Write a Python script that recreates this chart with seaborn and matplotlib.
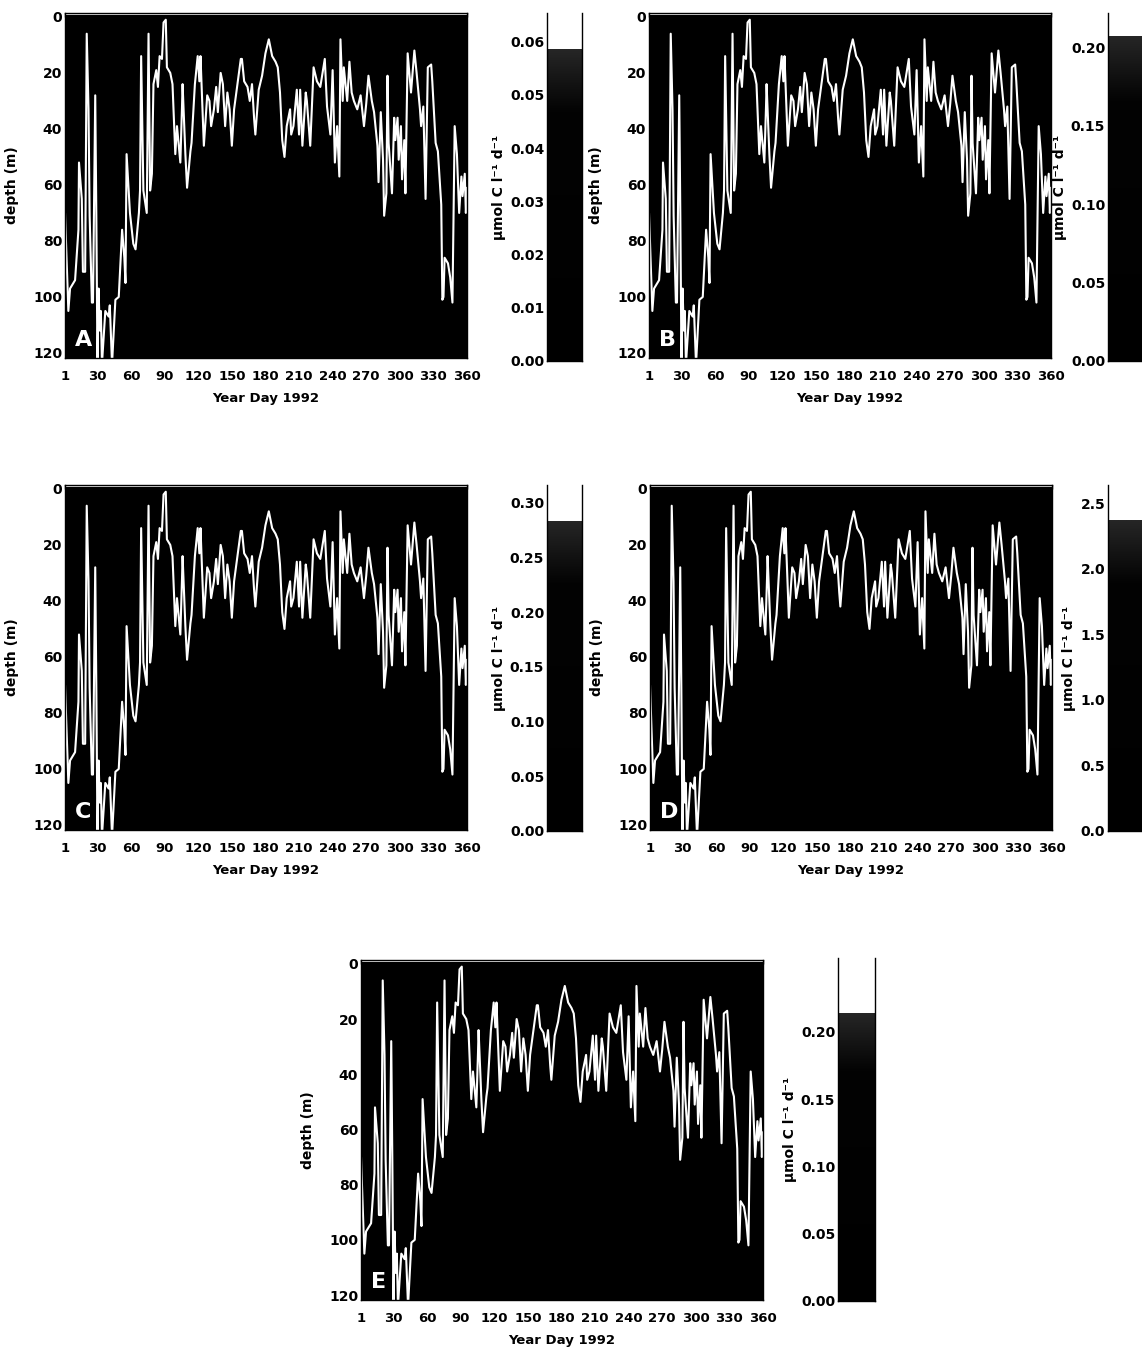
import numpy as np
import pandas as pd
import matplotlib
matplotlib.use("Agg")
import matplotlib.pyplot as plt
from matplotlib.colors import LinearSegmentedColormap
import seaborn as sns

# Mixed-layer depth (m) through 1992, by year day
mld_day = [1, 4, 5.5, 10, 13, 13.5, 16, 17, 19, 20.4, 22, 23, 25, 26, 28, 29, 30, 31, 32,
           33, 34, 37, 40, 41, 43, 46, 49, 52, 54, 55, 56, 59, 62, 64, 67, 68, 69, 71,
           74, 75.6, 77, 78.6, 80, 82.5, 84, 85.5, 87.6, 89, 91, 92, 95, 97, 99.5, 101,
           104, 105.5, 106, 108.5, 110, 113, 114, 117, 119.5, 121, 122, 125, 128, 130,
           131.5, 134, 136, 137.5, 140, 142, 144, 146, 148, 150, 152, 155, 158, 159, 161,
           164, 166, 168, 170, 171, 174, 177, 180, 183, 186, 189, 191, 193, 195, 197,
           199, 202, 203, 205, 208, 210, 211, 213, 216, 217, 220, 223, 226, 229, 233,
           235, 238, 240, 242, 244, 246, 247, 249, 250, 253, 255, 257, 259, 262, 265,
           268, 270, 272, 275, 277, 280, 281, 283, 285, 286, 288, 289, 290, 293, 295,
           296, 298, 299, 301, 302, 304, 305, 307, 310, 313, 315, 318, 319, 321, 323,
           325, 328, 329, 332, 334, 337, 338, 339, 340, 343, 345, 347, 349, 351, 353,
           355, 356, 358, 359, 360]
mld_depth = [70, 105, 97, 94, 76, 52, 65, 91, 91, 6, 33, 71, 102, 102, 28, 72, 124, 97, 112,
             105, 124, 105, 107, 103, 124, 101, 100, 76, 86, 95, 49, 70, 81, 83, 70, 62, 14, 62,
             70, 6, 62, 56, 24, 19, 25, 14, 15, 2, 1, 18, 20, 24, 49, 39,
             52, 32, 24, 49, 61, 48, 45, 24, 14, 23, 14, 46, 28, 30,
             39, 33, 25, 34, 20, 24, 39, 27, 33, 46, 33, 24, 15, 15, 23,
             25, 30, 24, 37, 42, 26, 21, 13, 8, 14, 16, 18, 27, 44, 50,
             39, 33, 42, 39, 26, 42, 26, 46, 27, 30, 46, 18, 23, 25, 15,
             32, 42, 19, 52, 39, 57, 8, 30, 18, 30, 16, 27, 30, 33, 28,
             39, 31, 21, 30, 34, 46, 59, 34, 51, 71, 63, 21, 45, 63, 36,
             44, 36, 51, 39, 58, 44, 63, 13, 27, 12, 20, 33, 39, 32, 65,
             18, 17, 23, 45, 48, 67, 101, 100, 86, 88, 93, 102, 39, 49, 70,
             57, 64, 56, 70, 61]

# Primary production scales (µmol C l-1 d-1) for the five panels
panel_labels = ["A", "B", "C", "D", "E"]
rate_max = [0.0585, 0.207, 0.283, 2.37, 0.214]
scale_top = [0.0654, 0.222, 0.316, 2.64, 0.255]
scale_ticks = [
    [0.00, 0.01, 0.02, 0.03, 0.04, 0.05, 0.06],
    [0.00, 0.05, 0.10, 0.15, 0.20],
    [0.00, 0.05, 0.10, 0.15, 0.20, 0.25, 0.30],
    [0.0, 0.5, 1.0, 1.5, 2.0, 2.5],
    [0.00, 0.05, 0.10, 0.15, 0.20],
]
scale_fmt = ["{:.2f}", "{:.2f}", "{:.2f}", "{:.1f}", "{:.2f}"]

day_ticks = [1, 30, 60, 90, 120, 150, 180, 210, 240, 270, 300, 330, 360]
depth_ticks = [0, 20, 40, 60, 80, 100, 120]

mld = pd.DataFrame({"day": mld_day, "depth": mld_depth})

sns.set_theme(style="white")
plt.rcParams["font.family"] = ["DejaVu Sans"]
plt.rcParams["font.weight"] = "bold"
plt.rcParams["text.color"] = "black"
plt.rcParams["axes.labelcolor"] = "black"
plt.rcParams["xtick.color"] = "black"
plt.rcParams["ytick.color"] = "black"

FS = 9.5

W, H = 1142, 1351
fig = plt.figure(figsize=(W / 100, H / 100), dpi=100)
fig.patch.set_facecolor("white")


def rect(x0, y0, x1, y1):
    return [x0 / W, 1 - y1 / H, (x1 - x0) / W, (y1 - y0) / H]


heat_boxes = [(65, 13, 467, 358), (649, 13, 1051, 358), (65, 485, 467, 830),
              (650, 485, 1052, 830), (361, 960, 763, 1300)]
bar_boxes = [(547, 13, 582, 361), (1108, 13, 1143, 361), (547, 485, 582, 831),
             (1108, 485, 1143, 831), (838, 958, 875, 1301)]

cmap = LinearSegmentedColormap.from_list(
    "prod", [(0.0, "#000000"), (0.8, "#030303"), (1.0, "#262626")])

for i in range(5):
    ax = fig.add_axes(rect(*heat_boxes[i]))
    ax.set_facecolor("black")
    sns.lineplot(data=mld, x="day", y="depth", ax=ax, color="white", lw=1.5,
                 estimator=None, sort=False)
    ax.axhline(-0.9, color="white", lw=1.3, zorder=1.5)
    ax.set_xlim(1, 360)
    ax.set_ylim(121.8, -1.4)
    ax.set_xticks(day_ticks)
    ax.set_xticklabels([str(d) for d in day_ticks], fontsize=FS, fontweight="bold")
    ax.set_yticks(depth_ticks)
    ax.set_yticklabels([str(d) for d in depth_ticks], fontsize=FS + 0.5, fontweight="bold")
    ax.tick_params(axis="x", which="both", bottom=False, top=True, length=3, width=1,
                   color="black", direction="in", pad=9)
    ax.tick_params(axis="y", length=0, pad=2)
    ax.set_xlabel("Year Day 1992", fontsize=9.5, fontweight="bold", labelpad=6)
    ax.set_ylabel("depth (m)", fontsize=10, fontweight="bold", labelpad=10)
    for s in ax.spines.values():
        s.set_color("black")
        s.set_linewidth(1)
    ax.text(0.025, 0.035, panel_labels[i], transform=ax.transAxes, color="white",
            fontsize=16, fontweight="bold", ha="left", va="baseline")

    cax = fig.add_axes(rect(*bar_boxes[i]))
    cax.set_facecolor("white")
    grad = np.linspace(0, 1, 256).reshape(-1, 1)
    cax.imshow(grad, cmap=cmap, aspect="auto", origin="lower",
               extent=(0, 1, 0, rate_max[i]), interpolation="bilinear")
    cax.set_xlim(0, 1)
    cax.set_ylim(0, scale_top[i])
    cax.set_xticks([])
    cax.set_yticks(scale_ticks[i])
    cax.set_yticklabels([scale_fmt[i].format(t) for t in scale_ticks[i]],
                        fontsize=FS + 0.5, fontweight="bold")
    cax.tick_params(axis="y", length=0, pad=2)
    cax.set_ylabel("µmol C l⁻¹ d⁻¹", fontsize=10, fontweight="bold", labelpad=3)
    cax.spines["top"].set_visible(False)
    for k in ("left", "right", "bottom"):
        cax.spines[k].set_color("black")
        cax.spines[k].set_linewidth(1)

fig.savefig("out.png", dpi=100, facecolor="white")
